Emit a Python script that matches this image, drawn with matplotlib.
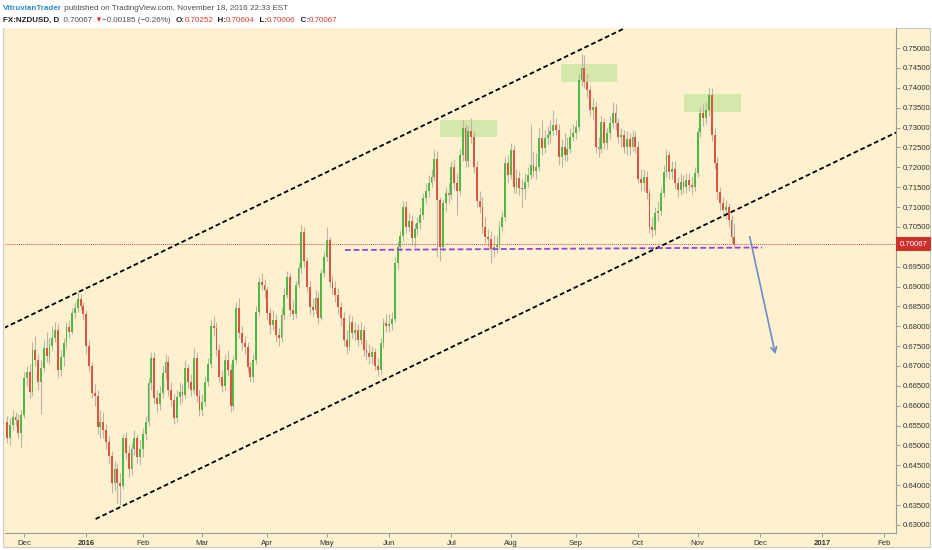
import matplotlib.pyplot as plt
import matplotlib.patches as mpatches
import matplotlib.transforms as mtransforms
import numpy as np
import pandas as pd

plt.rcParams['font.family'] = ['Liberation Sans', 'DejaVu Sans']

# daily FX bars, weekends and Dec 25 / Jan 1 skipped like TradingView does
dates = pd.bdate_range('2015-11-23', '2017-02-28')
dates = dates[~dates.isin(pd.to_datetime(['2015-12-25', '2016-01-01']))]

first_open = 0.6560
close = [
    # Nov 2015
    0.6520, 0.6551, 0.6572, 0.6565, 0.6532, 0.6577,
    # Dec
    0.6670, 0.6685, 0.6635, 0.6740, 0.6715, 0.6660, 0.6694, 0.6745, 0.6725, 0.6750, 0.6770,
    0.6790, 0.6690, 0.6722, 0.6757, 0.6798, 0.6785, 0.6833, 0.6845, 0.6868, 0.6850, 0.6830,
    # Jan 2016
    0.6750, 0.6700, 0.6632, 0.6625, 0.6547, 0.6560, 0.6540, 0.6510, 0.6473, 0.6405,
    0.6440, 0.6405, 0.6398, 0.6520, 0.6482, 0.6440, 0.6490, 0.6520, 0.6470, 0.6490,
    # Feb
    0.6530, 0.6560, 0.6657, 0.6720, 0.6620, 0.6605, 0.6632, 0.6682, 0.6710, 0.6640, 0.6615,
    0.6570, 0.6621, 0.6635, 0.6628, 0.6695, 0.6660, 0.6640, 0.6720, 0.6625, 0.6590,
    # Mar
    0.6610, 0.6660, 0.6705, 0.6800, 0.6795, 0.6741, 0.6673, 0.6650, 0.6715, 0.6690, 0.6600, 0.6715,
    0.6846, 0.6783, 0.6758, 0.6748, 0.6698, 0.6673, 0.6715, 0.6836, 0.6911, 0.6903, 0.6890,
    # Apr
    0.6833, 0.6803, 0.6815, 0.6778, 0.6770, 0.6828, 0.6878, 0.6924, 0.6841, 0.6832, 0.6905,
    0.6946, 0.7037, 0.6963, 0.6899, 0.6848, 0.6841, 0.6872, 0.6821, 0.6934, 0.6974,
    # May
    0.7017, 0.6911, 0.6896, 0.6878, 0.6848, 0.6821, 0.6765, 0.6748, 0.6811, 0.6783, 0.6790,
    0.6765, 0.6791, 0.6740, 0.6733, 0.6722, 0.6735, 0.6700, 0.6690, 0.6758, 0.6808, 0.6800,
    # Jun
    0.6805, 0.6818, 0.6960, 0.7000, 0.7026, 0.7100, 0.7050, 0.7065, 0.7021, 0.7045, 0.7060,
    0.7080, 0.7123, 0.7140, 0.7160, 0.7175, 0.7220, 0.7118, 0.7000, 0.7110, 0.7135, 0.7130,
    # Jul
    0.7200, 0.7160, 0.7140, 0.7230, 0.7300, 0.7215, 0.7290, 0.7275, 0.7200, 0.7115, 0.7100,
    0.7050, 0.7025, 0.7020, 0.6995, 0.7000, 0.7005, 0.7050, 0.7075, 0.7210, 0.7180,
    # Aug
    0.7243, 0.7150, 0.7173, 0.7148, 0.7145, 0.7163, 0.7180, 0.7206, 0.7190, 0.7200, 0.7274, 0.7249,
    0.7274, 0.7281, 0.7290, 0.7306, 0.7294, 0.7226, 0.7251, 0.7230, 0.7245, 0.7276, 0.7286,
    # Sep
    0.7301, 0.7420, 0.7450, 0.7415, 0.7394, 0.7344, 0.7352, 0.7251, 0.7245, 0.7314, 0.7261,
    0.7286, 0.7311, 0.7337, 0.7311, 0.7276, 0.7280, 0.7251, 0.7270, 0.7250, 0.7276, 0.7251,
    # Oct
    0.7170, 0.7160, 0.7175, 0.7135, 0.7050, 0.7042, 0.7085, 0.7090, 0.7135, 0.7188, 0.7231,
    0.7188, 0.7195, 0.7160, 0.7143, 0.7163, 0.7150, 0.7168, 0.7155, 0.7151, 0.7186,
    # Nov 1-18
    0.7289, 0.7337, 0.7324, 0.7345, 0.7382, 0.7281, 0.7211, 0.7138, 0.7110, 0.7093, 0.7100,
    0.7067, 0.7025, 0.70067,
]
high = [
    0.6575, 0.6568, 0.6590, 0.6585, 0.6580, 0.6590,
    0.6685, 0.6700, 0.6705, 0.6760, 0.6775, 0.6730, 0.6715, 0.6765, 0.6785, 0.6770, 0.6800,
    0.6810, 0.6805, 0.6740, 0.6770, 0.6810, 0.6815, 0.6845, 0.6860, 0.6885, 0.6880, 0.6862,
    0.6840, 0.6765, 0.6710, 0.6655, 0.6640, 0.6590, 0.6585, 0.6555, 0.6525, 0.6485,
    0.6462, 0.6455, 0.6430, 0.6530, 0.6535, 0.6500, 0.6505, 0.6540, 0.6530, 0.6515,
    0.6545, 0.6575, 0.6670, 0.6735, 0.6735, 0.6640, 0.6650, 0.6700, 0.6730, 0.6725, 0.6660,
    0.6630, 0.6640, 0.6660, 0.6655, 0.6715, 0.6705, 0.6680, 0.6745, 0.6735, 0.6640,
    0.6630, 0.6675, 0.6720, 0.6815, 0.6825, 0.6810, 0.6755, 0.6690, 0.6730, 0.6740, 0.6705, 0.6725,
    0.6860, 0.6870, 0.6800, 0.6775, 0.6760, 0.6710, 0.6730, 0.6850, 0.6925, 0.6935, 0.6920,
    0.6900, 0.6845, 0.6840, 0.6830, 0.6795, 0.6845, 0.6895, 0.6940, 0.6935, 0.6865, 0.6915,
    0.6960, 0.7055, 0.7050, 0.6975, 0.6915, 0.6870, 0.6890, 0.6885, 0.6945, 0.6990,
    0.7050, 0.7025, 0.6930, 0.6915, 0.6895, 0.6860, 0.6835, 0.6790, 0.6830, 0.6825, 0.6810,
    0.6805, 0.6810, 0.6800, 0.6765, 0.6755, 0.6750, 0.6745, 0.6720, 0.6770, 0.6820, 0.6830,
    0.6830, 0.6835, 0.6975, 0.7015, 0.7040, 0.7115, 0.7115, 0.7085, 0.7080, 0.7060, 0.7075,
    0.7100, 0.7135, 0.7160, 0.7180, 0.7195, 0.7245, 0.7240, 0.7125, 0.7120, 0.7150, 0.7160,
    0.7215, 0.7220, 0.7185, 0.7245, 0.7320, 0.7310, 0.7305, 0.7325, 0.7290, 0.7215, 0.7140,
    0.7125, 0.7075, 0.7045, 0.7040, 0.7030, 0.7030, 0.7065, 0.7090, 0.7225, 0.7230,
    0.7260, 0.7255, 0.7195, 0.7190, 0.7170, 0.7185, 0.7200, 0.7310, 0.7240, 0.7235, 0.7300, 0.7320,
    0.7295, 0.7305, 0.7320, 0.7345, 0.7325, 0.7310, 0.7270, 0.7285, 0.7275, 0.7300, 0.7310,
    0.7320, 0.7435, 0.7485, 0.7482, 0.7435, 0.7405, 0.7375, 0.7365, 0.7275, 0.7330, 0.7325,
    0.7300, 0.7330, 0.7365, 0.7360, 0.7325, 0.7300, 0.7295, 0.7290, 0.7285, 0.7295, 0.7290,
    0.7265, 0.7195, 0.7195, 0.7190, 0.7145, 0.7075, 0.7100, 0.7115, 0.7150, 0.7205, 0.7245,
    0.7240, 0.7215, 0.7215, 0.7175, 0.7185, 0.7180, 0.7185, 0.7185, 0.7175, 0.7200,
    0.7300, 0.7350, 0.7360, 0.7365, 0.7403, 0.7400, 0.7300, 0.7225, 0.7150, 0.7125, 0.7118,
    0.7110, 0.7080, 0.70604,
]
low = [
    0.6505, 0.6500, 0.6540, 0.6550, 0.6518, 0.6495,
    0.6570, 0.6650, 0.6620, 0.6625, 0.6700, 0.6640, 0.6580, 0.6685, 0.6710, 0.6705, 0.6740,
    0.6760, 0.6670, 0.6675, 0.6700, 0.6745, 0.6770, 0.6780, 0.6820, 0.6835, 0.6840, 0.6815,
    0.6730, 0.6685, 0.6620, 0.6600, 0.6530, 0.6520, 0.6520, 0.6490, 0.6455, 0.6380,
    0.6385, 0.6355, 0.6350, 0.6390, 0.6465, 0.6420, 0.6425, 0.6475, 0.6455, 0.6450,
    0.6470, 0.6515, 0.6550, 0.6640, 0.6605, 0.6585, 0.6590, 0.6620, 0.6665, 0.6625, 0.6600,
    0.6555, 0.6560, 0.6605, 0.6610, 0.6620, 0.6645, 0.6625, 0.6630, 0.6610, 0.6575,
    0.6575, 0.6600, 0.6650, 0.6695, 0.6775, 0.6725, 0.6660, 0.6635, 0.6640, 0.6675, 0.6585, 0.6590,
    0.6705, 0.6770, 0.6740, 0.6730, 0.6685, 0.6660, 0.6660, 0.6705, 0.6825, 0.6890, 0.6870,
    0.6815, 0.6780, 0.6790, 0.6760, 0.6750, 0.6760, 0.6815, 0.6870, 0.6825, 0.6815, 0.6820,
    0.6895, 0.6935, 0.6950, 0.6885, 0.6830, 0.6825, 0.6830, 0.6805, 0.6815, 0.6925,
    0.6965, 0.6900, 0.6880, 0.6860, 0.6830, 0.6800, 0.6750, 0.6730, 0.6740, 0.6770, 0.6765,
    0.6750, 0.6755, 0.6725, 0.6715, 0.6705, 0.6705, 0.6690, 0.6676, 0.6680, 0.6745, 0.6785,
    0.6785, 0.6790, 0.6810, 0.6945, 0.6990, 0.7015, 0.7035, 0.7040, 0.7005, 0.7000, 0.7030,
    0.7045, 0.7070, 0.7110, 0.7125, 0.7150, 0.7165, 0.6975, 0.6965, 0.6990, 0.7090, 0.7110,
    0.7120, 0.7145, 0.7080, 0.7130, 0.7215, 0.7200, 0.7200, 0.7260, 0.7185, 0.7100, 0.7085,
    0.7035, 0.7010, 0.7000, 0.6960, 0.6975, 0.6985, 0.6995, 0.7040, 0.7065, 0.7160,
    0.7170, 0.7135, 0.7135, 0.7130, 0.7100, 0.7120, 0.7150, 0.7170, 0.7175, 0.7170, 0.7190, 0.7230,
    0.7235, 0.7255, 0.7260, 0.7280, 0.7280, 0.7205, 0.7200, 0.7215, 0.7215, 0.7235, 0.7265,
    0.7270, 0.7290, 0.7405, 0.7400, 0.7375, 0.7330, 0.7320, 0.7235, 0.7225, 0.7235, 0.7245,
    0.7245, 0.7270, 0.7300, 0.7295, 0.7260, 0.7250, 0.7235, 0.7230, 0.7230, 0.7240, 0.7235,
    0.7160, 0.7140, 0.7140, 0.7120, 0.7035, 0.7025, 0.7030, 0.7065, 0.7080, 0.7125, 0.7175,
    0.7170, 0.7170, 0.7145, 0.7125, 0.7130, 0.7135, 0.7135, 0.7140, 0.7130, 0.7140,
    0.7175, 0.7275, 0.7305, 0.7310, 0.7330, 0.7265, 0.7195, 0.7120, 0.7090, 0.7075, 0.7070,
    0.7050, 0.7010, 0.70006,
]

# drawings on the chart (bar index, price)
upper_channel = [(-1.06, 0.67956), (218.4, 0.75504)]
lower_channel = [(31.3, 0.63150), (314.1, 0.72874)]
support = [(119.4, 0.69918), (266.8, 0.69981)]
arrow = [(262.2, 0.70321), (271.7, 0.67226)]
boxes = [(153.0, 173.1, 0.72761, 0.73189),
         (195.7, 215.5, 0.74145, 0.74598),
         (239.2, 259.4, 0.73390, 0.73843)]
last_price = 0.70067

cream = '#fdf1cf'
up_col = '#4fb846'
down_col = '#df5440'
wick_col = '#bab4a4'

c = np.array(close)
o = np.r_[first_open, c[:-1]]
h = np.array(high)
l = np.array(low)
x = np.arange(len(c))

fig = plt.figure(figsize=(9.32, 5.5), dpi=100, facecolor='white')
W, H = 932, 550

# cream pane incl. price and time scales
fig.patches.append(mpatches.Rectangle((3 / W, 3 / H), 927 / W, 519 / H, transform=fig.transFigure,
                                      facecolor=cream, edgecolor='#c9c9c9', lw=0.8, zorder=-5))

ax = fig.add_axes([5 / W, (H - 533) / H, 891 / W, 505 / H])
ax.set_facecolor(cream)
ax.set_zorder(2)

# candles
ax.vlines(x, l, h, color=wick_col, lw=0.8, zorder=2)
up = c >= o
body = np.maximum(np.abs(c - o), 0.00008)
ax.bar(x[up], body[up], bottom=o[up], width=0.66, color=up_col, lw=0, zorder=3)
ax.bar(x[~up], body[~up], bottom=c[~up], width=0.66, color=down_col, lw=0, zorder=3)

# trend channel and support
for seg in (upper_channel, lower_channel):
    (x1, y1), (x2, y2) = seg
    ax.plot([x1, x2], [y1, y2], color='black', lw=1.3, dashes=(2.6, 1.6), zorder=4)
(x1, y1), (x2, y2) = support
ax.plot([x1, x2], [y1, y2], color='#9b3fe0', lw=1.3, dashes=(3.2, 1.6), zorder=4)

for x0, x1b, y0, y1b in boxes:
    ax.add_patch(mpatches.Rectangle((x0, y0), x1b - x0, y1b - y0, facecolor='#b4e08c',
                                    alpha=0.55, lw=0, zorder=1.5))

ax.annotate('', xy=arrow[1], xytext=arrow[0],
            arrowprops=dict(arrowstyle='->', color='#6f8cc6', lw=1.2, mutation_scale=10), zorder=5)

ax.axhline(last_price, color='#e0453a', lw=0.7, ls=(0, (1, 1)), zorder=2.5)

ax.set_xlim(-0.71, 314.1)
ax.set_ylim(0.62798, 0.75504)

# price scale
yt = [v for v in np.arange(0.630, 0.75001, 0.005) if abs(v - 0.700) > 1e-6]
ax.yaxis.tick_right()
ax.set_yticks(yt)
ax.set_yticklabels(['%.5f' % v for v in yt])
ax.tick_params(axis='y', labelsize=5.6, colors='#8c8c8c', labelcolor='#333333', length=3, width=0.6, pad=2)

blend = mtransforms.blended_transform_factory(ax.transAxes, ax.transData)
ax.text(1.004, last_price, '%.5f' % last_price, transform=blend, ha='left', va='center',
        fontsize=5.6, color='white', clip_on=False, zorder=10,
        bbox=dict(boxstyle='square,pad=0.45', fc='#d0302b', ec='none'))

# time scale: first bar of each month
month_idx, month_lab = [], []
prev = None
for i, d in enumerate(dates):
    if i > 314:
        break
    if d.month != prev:
        if i > 0:
            month_idx.append(i)
            month_lab.append(str(d.year) if d.month == 1 else d.strftime('%b'))
        prev = d.month
ax.set_xticks(month_idx)
ax.set_xticklabels(month_lab)
for t in ax.get_xticklabels():
    if t.get_text().isdigit():
        t.set_fontweight('bold')
ax.tick_params(axis='x', labelsize=5.6, colors='#8c8c8c', labelcolor='#333333', length=3, width=0.6, pad=2)

for side in ('left', 'top'):
    ax.spines[side].set_visible(False)
for side in ('right', 'bottom'):
    ax.spines[side].set_color('#9a9a9a')
    ax.spines[side].set_linewidth(0.8)

# header lines
renderer = fig.canvas.get_renderer()


def rich_line(x0, y0, parts, size=5.8):
    xpos = x0
    for txt, col, wt in parts:
        t = fig.text(xpos / W, 1 - y0 / H, txt, color=col, fontsize=size, fontweight=wt,
                     ha='left', va='center')
        xpos += t.get_window_extent(renderer).width


grey = '#4d4d4d'
red = '#d23b32'
rich_line(3, 8, [('VitruvianTrader', '#2d8ccb', 'bold'),
                 (' published on TradingView.com, November 18, 2016 22:33 EST', grey, 'normal')])
rich_line(3, 20, [('FX:NZDUSD, D', '#222222', 'bold'), ('  0.70067 ', grey, 'normal'),
                  ('\u25bc', red, 'normal'), ('\u22120.00185 (\u22120.26%)  ', grey, 'normal'),
                  ('O:', '#222222', 'bold'), ('0.70252', red, 'normal'), ('  H:', '#222222', 'bold'),
                  ('0.70604', red, 'normal'), ('  L:', '#222222', 'bold'), ('0.70006', red, 'normal'),
                  ('  C:', '#222222', 'bold'), ('0.70067', red, 'normal')])

fig.savefig('out.png', dpi=100, facecolor='white')
